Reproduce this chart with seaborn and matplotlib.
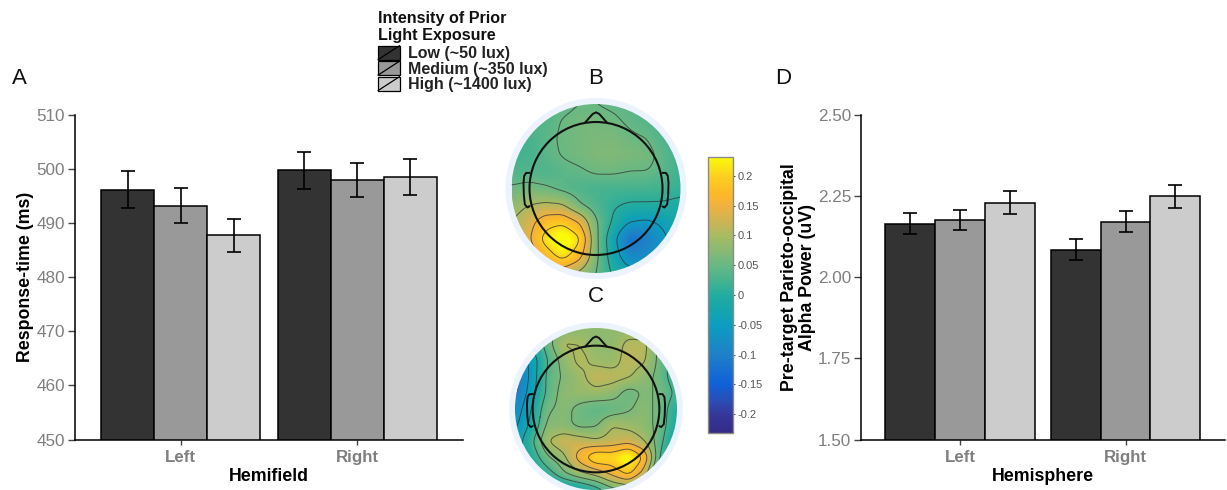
import numpy as np
import pandas as pd
import matplotlib
matplotlib.use('Agg')
import matplotlib.pyplot as plt
import seaborn as sns
from matplotlib.colors import LinearSegmentedColormap
from matplotlib.legend_handler import HandlerPatch
from matplotlib.lines import Line2D
from matplotlib.patches import Circle, Rectangle

W, H = 1227, 490

# bar data
hemi_a = ['Left', 'Right']
hemi_d = ['Left', 'Right']
intensity = ['Low (~50 lux)', 'Medium (~350 lux)', 'High (~1400 lux)']
bar_colors = ['#333333', '#999999', '#cccccc']

rt_left = [496.1, 493.2, 487.7]
rt_right = [499.7, 497.9, 498.5]
rt_left_lo = [492.8, 490.0, 484.7]
rt_left_hi = [499.5, 496.5, 490.8]
rt_right_lo = [496.3, 494.7, 495.2]
rt_right_hi = [503.1, 501.1, 501.8]

alpha_left = [2.163, 2.175, 2.229]
alpha_right = [2.084, 2.170, 2.249]
alpha_left_lo = [2.132, 2.144, 2.194]
alpha_left_hi = [2.196, 2.207, 2.264]
alpha_right_lo = [2.052, 2.139, 2.214]
alpha_right_hi = [2.116, 2.203, 2.282]

# scalp maps, values read on a coarse grid (top row is the front of the head)
topo_b = [
    [.03, .03, .03, .04, .05, .05, .045, .04, .03, .03, .03],
    [.03, .03, .035, .052, .06, .06, .055, .045, .035, .03, .03],
    [.02, .025, .04, .055, .06, .065, .065, .055, .05, .03, .02],
    [.02, .025, .04, .052, .06, .068, .07, .065, .06, .04, .02],
    [.03, .035, .03, .04, .045, .055, .055, .05, .05, .04, .02],
    [.055, .06, .055, .04, .03, .025, .025, .025, .025, .02, .015],
    [.08, .10, .11, .105, .055, .03, .01, .0, .0, .0, -.005],
    [.10, .13, .18, .19, .15, .055, .0, -.05, -.06, -.04, -.01],
    [.10, .14, .22, .26, .21, .06, -.03, -.13, -.10, -.06, -.02],
    [.08, .11, .17, .22, .17, .06, -.02, -.09, -.08, -.05, -.02],
    [.05, .08, .10, .12, .09, .05, .0, -.03, -.03, -.02, -.01],
]
topo_c = [
    [-.02, .0, .05, .07, .08, .08, .08, .08, .07, .04, .02],
    [-.06, -.02, .05, .105, .10, .08, .08, .11, .11, .05, .0],
    [-.10, -.05, .03, .08, .11, .09, .085, .115, .105, .05, .0],
    [-.12, -.05, .04, .07, .09, .12, .115, .105, .08, .05, .0],
    [-.11, -.04, .04, .08, .085, .09, .08, .05, .07, .06, .02],
    [-.09, -.02, .06, .075, .055, .04, .045, .06, .08, .05, .0],
    [-.07, -.01, .075, .075, .055, .06, .10, .09, .08, .05, -.01],
    [-.05, .02, .10, .125, .12, .105, .115, .125, .10, .04, -.03],
    [-.05, .0, .06, .09, .16, .22, .21, .25, .17, .02, -.05],
    [-.07, -.03, .01, .06, .09, .11, .15, .19, .12, -.01, -.08],
    [-.10, -.08, -.06, -.04, -.02, .01, .05, .06, .0, -.07, -.10],
]
levels_b = [-.05, .005, .05, .10, .15, .20]
levels_c = [-.10, -.06, -.02, .03, .065, .10, .14, .18]
cbar_ticks = [-.2, -.15, -.1, -.05, 0, .05, .1, .15, .2]
cbar_labels = ['-0.2', '-0.15', '-0.1', '-0.05', '0', '0.05', '0.1', '0.15', '0.2']

# colours sampled off the reference colorbar
cmap_vals = [-.232, -.20, -.18, -.15, -.10, -.05, -.03, 0, .02, .05, .10, .12, .15, .17, .20, .232]
cmap_cols = ['#352a87', '#35389a', '#2c4cb4', '#1060d8', '#1f80c8', '#0c9dc0', '#14a4b0', '#22aca0',
             '#3fb292', '#68b884', '#a8bb62', '#c8b458', '#f0b240', '#fcb828', '#fcd020', '#fafa0a']
parula = LinearSegmentedColormap.from_list(
    'parula', [((v + .232) / .464, c) for v, c in zip(cmap_vals, cmap_cols)])

sns.set_theme(style='white')
plt.rcParams['font.family'] = ['Liberation Sans', 'DejaVu Sans']


def px_axes(fig, left, top, right, bottom):
    return fig.add_axes([left / W, 1 - bottom / H, (right - left) / W, (bottom - top) / H])


def bar_panel(ax, cats, left, right, lo, hi, ylim, yticks, fmt, xlabel):
    df = pd.DataFrame({
        'side': [cats[0]] * 3 + [cats[1]] * 3,
        'light': intensity * 2,
        'value': left + right,
    })
    sns.barplot(data=df, x='side', y='value', hue='light', hue_order=intensity, palette=bar_colors,
                saturation=1, width=0.9, errorbar=None, edgecolor='black', linewidth=1.1, ax=ax)
    handles, labels = ax.get_legend_handles_labels()
    ax.get_legend().remove()
    # containers grows as errorbars get added, so freeze it first
    for i, cont in enumerate(list(ax.containers)):
        for j, bar in enumerate(cont):
            xc = bar.get_x() + bar.get_width() / 2
            val = bar.get_height()
            ax.errorbar(xc, val, yerr=[[val - lo[j][i]], [hi[j][i] - val]], color='black',
                        lw=1.2, capsize=5.3, capthick=1.2, clip_on=False, zorder=5)
    ax.set_xlim(-0.6, 1.6)
    ax.set_ylim(*ylim)
    ax.set_yticks(yticks)
    ax.set_yticklabels([fmt % t for t in yticks])
    sns.despine(ax=ax)
    for s in ['left', 'bottom']:
        ax.spines[s].set_color('black')
        ax.spines[s].set_linewidth(1.1)
    ax.tick_params(axis='y', length=5, width=1, color='#444444', labelsize=12.3,
                   labelcolor='#7f7f7f', pad=2, left=True)
    ax.tick_params(axis='x', length=3.5, width=1, color='#444444', labelsize=12.2,
                   labelcolor='#7f7f7f', pad=4, bottom=True)
    for t in ax.get_xticklabels():
        t.set_fontweight('bold')
    ax.set_xlabel(xlabel, fontsize=12.8, fontweight='bold', color='black', labelpad=2.5)
    return handles, labels


def upsample(grid, n=221):
    # linear resize then a small blur, good enough for a smooth looking map
    grid = np.array(grid, dtype=float)
    src = np.linspace(-1, 1, grid.shape[0])
    dst = np.linspace(-1, 1, n)
    tmp = np.array([np.interp(dst, src, row) for row in grid])
    out = np.array([np.interp(dst, src, col) for col in tmp.T]).T
    kern = np.hanning(23)
    kern = kern / kern.sum()
    pad = 11
    for axis in [0, 1]:
        padded = np.pad(out, [(pad, pad) if a == axis else (0, 0) for a in [0, 1]], mode='edge')
        out = np.apply_along_axis(lambda r: np.convolve(r, kern, mode='valid'), axis, padded)
    return out


def topo_panel(ax, grid, levels, head_r):
    ax.set_xlim(-1.09, 1.09)
    ax.set_ylim(-1.09, 1.09)
    ax.axis('off')
    ax.add_patch(Circle((0, 0), 1.072, fc='#edf3fc', ec='none', zorder=0))
    clip = Circle((0, 0), 1.0, transform=ax.transData)
    z = upsample(grid)
    xs = np.linspace(-1, 1, z.shape[1])
    ys = np.linspace(1, -1, z.shape[0])
    im = ax.imshow(z, extent=[-1, 1, -1, 1], cmap=parula, vmin=-.232, vmax=.232,
                   interpolation='bilinear', zorder=1)
    im.set_clip_path(clip)
    cs = ax.contour(xs, ys, z, levels=levels, colors='#333333', linewidths=0.7, alpha=0.75,
                    linestyles='solid', zorder=2)
    cs.set_clip_path(clip)
    ax.set_xlim(-1.09, 1.09)
    ax.set_ylim(-1.09, 1.09)
    ax.add_patch(Circle((0, 0), head_r, fc='none', ec='#111111', lw=1.5, zorder=3, clip_on=False))
    r = head_r
    ax.plot([-.17 * r, -.05 * r, 0, .05 * r, .17 * r],
            [.985 * r, 1.12 * r, 1.145 * r, 1.12 * r, .985 * r],
            color='#111111', lw=1.4, zorder=3, solid_joinstyle='round')
    for sgn in [-1, 1]:
        ax.plot([sgn * 1.0 * r, sgn * 1.05 * r, sgn * 1.08 * r, sgn * 1.09 * r, sgn * 1.085 * r,
                 sgn * 1.07 * r, sgn * 1.03 * r, sgn * 1.0 * r],
                [.235 * r, .235 * r, .19 * r, .08 * r, -.1 * r, -.24 * r, -.285 * r, -.27 * r],
                color='#111111', lw=1.4, zorder=3, solid_joinstyle='round')


class KeyHandler(HandlerPatch):
    # legend key with the diagonal stroke ggplot leaves on it
    def create_artists(self, legend, orig_handle, xdescent, ydescent, width, height, fontsize, trans):
        rect = Rectangle((-xdescent, -ydescent), width, height, transform=trans,
                         fc=orig_handle.get_facecolor(), ec='black', lw=0.9)
        diag = Line2D([-xdescent, -xdescent + width], [-ydescent, -ydescent + height],
                      transform=trans, color='black', lw=0.9)
        return [rect, diag]


fig = plt.figure(figsize=(W / 100, H / 100), dpi=100, facecolor='white')

ax_a = px_axes(fig, 75, 114.6, 463, 439.5)
handles, labels = bar_panel(ax_a, hemi_a, rt_left, rt_right, (rt_left_lo, rt_right_lo), (rt_left_hi, rt_right_hi),
                            (450, 510), [450, 460, 470, 480, 490, 500, 510], '%d', 'Hemifield')
ax_a.set_ylabel('Response-time (ms)', fontsize=12.8, fontweight='bold', color='black')
ax_a.yaxis.set_label_coords((33.5 - 75) / (463 - 75), 0.5)

ax_d = px_axes(fig, 860.6, 114.6, 1225, 439.5)
bar_panel(ax_d, hemi_d, alpha_left, alpha_right, (alpha_left_lo, alpha_right_lo), (alpha_left_hi, alpha_right_hi),
          (1.5, 2.5), [1.5, 1.75, 2.0, 2.25, 2.5], '%.2f', 'Hemisphere')
ax_d.set_ylabel('Pre-target Parieto-occipital\nAlpha Power (uV)', fontsize=12.8, fontweight='bold',
                color='black', linespacing=1.05)
ax_d.yaxis.set_label_coords((816 - 860.6) / (1225 - 860.6), 0.5)

# scalp maps, axes sized so that 1 data unit is the coloured disc radius
cx, cy, rad = 596, 188.5, 84.5
ax_b = px_axes(fig, cx - 1.09 * rad, cy - 1.09 * rad, cx + 1.09 * rad, cy + 1.09 * rad)
topo_panel(ax_b, topo_b, levels_b, 0.787)
cx, cy, rad = 596, 409, 81
ax_c = px_axes(fig, cx - 1.09 * rad, cy - 1.09 * rad, cx + 1.09 * rad, cy + 1.09 * rad)
topo_panel(ax_c, topo_c, levels_c, 0.782)

# colorbar
cax = px_axes(fig, 708, 156.7, 732.7, 433.3)
sm = plt.cm.ScalarMappable(norm=plt.Normalize(-.232, .232), cmap=parula)
cb = fig.colorbar(sm, cax=cax)
cb.set_ticks(cbar_ticks)
cb.set_ticklabels(cbar_labels)
cb.ax.tick_params(direction='inout', length=2.5, width=0.7, color='#444444', labelsize=8, labelcolor='#555555', pad=2.5, right=True)
cb.outline.set_edgecolor('#8a8a8a')
cb.outline.set_linewidth(1.0)

# panel letters
for letter, x, y, ha in [('A', 12, 79, 'left'), ('B', 596, 79, 'center'), ('C', 596, 296, 'center'), ('D', 775, 79, 'left')]:
    fig.text(x / W, 1 - y / H, letter, fontsize=16, color='#111111', ha=ha, va='center')

leg = fig.legend(handles, labels, title='Intensity of Prior\nLight Exposure', handler_map={h: KeyHandler() for h in handles},
                 loc='upper left', bbox_to_anchor=(378 / W, 1 - 10.5 / H), frameon=False, alignment='left',
                 borderpad=0, borderaxespad=0, handlelength=1.35, handleheight=0.97, labelspacing=0,
                 handletextpad=0.5, prop={'size': 11.5, 'weight': 'bold'},
                 title_fontproperties={'size': 11.6, 'weight': 'bold'})
leg._legend_box.sep = 2
leg.get_title().set_color('#111111')
for t in leg.get_texts():
    t.set_color('#222222')

fig.savefig('out.png', dpi=100)
